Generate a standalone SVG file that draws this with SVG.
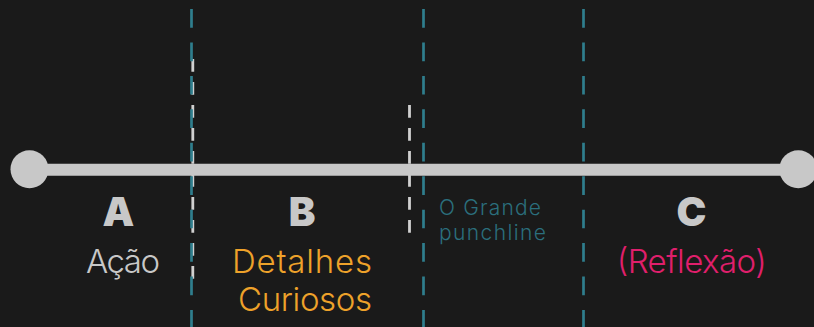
<svg xmlns="http://www.w3.org/2000/svg" width="814" height="327" viewBox="0 0 814 327">
  <style>
    .teal { stroke: #2f7e8d; stroke-width: 2.7; stroke-dasharray: 18.7 14.74; fill: none; }
    .wdash { stroke: #d0d0d0; stroke-width: 2.8; stroke-dasharray: 12.7 10.3; fill: none; }
    .axis { stroke: #c8c8c8; stroke-width: 12; }
    .dot { fill: #c8c8c8; }
    .big { font-family: Inter, "Noto Sans", sans-serif; font-weight: 900; font-size: 40px; fill: #c8c8c8; text-anchor: middle; }
    .lbl { font-family: Inter, "Noto Sans", sans-serif; font-weight: 300; font-size: 33px; text-anchor: middle; }
    .small { font-family: Inter, "Noto Sans", sans-serif; font-weight: 300; font-size: 21px; fill: #2b6f7d; }
  </style>
  <rect width="814" height="327" fill="#1a1a1a"/>
  <g id="connectors">
    <line class="wdash" x1="192.8" y1="59" x2="192.8" y2="279"/>
    <line class="wdash" x1="409.5" y1="105" x2="409.5" y2="234"/>
    <line class="teal" x1="191.5" y1="9" x2="191.5" y2="327"/>
    <line class="teal" x1="423.5" y1="9" x2="423.5" y2="327"/>
    <line class="teal" x1="583.5" y1="9" x2="583.5" y2="327"/>
    <line class="axis" x1="29.5" y1="169.7" x2="798" y2="169.7"/>
  </g>
  <g id="start"><circle class="dot" cx="29.5" cy="169.2" r="19"/></g>
  <g id="end"><circle class="dot" cx="798.3" cy="169.2" r="19"/></g>
  <g id="nodeA">
    <text class="big" x="118.3" y="226">A</text>
    <text class="lbl" x="123" y="273" fill="#c8c8c8" textLength="74">Ação</text>
  </g>
  <g id="nodeB">
    <text class="big" x="302" y="226">B</text>
    <text class="lbl" x="302" y="273" fill="#eea22a" textLength="140">Detalhes</text>
    <text class="lbl" x="305" y="311" fill="#eea22a" textLength="134">Curiosos</text>
  </g>
  <g id="punchline">
    <text class="small" x="439" y="215" textLength="102">O Grande</text>
    <text class="small" x="439" y="240" textLength="107">punchline</text>
  </g>
  <g id="nodeC">
    <text class="big" x="691.5" y="226">C</text>
    <text class="lbl" x="691.7" y="273" fill="#e01f6c" textLength="150">(Reflexão)</text>
  </g>
</svg>
